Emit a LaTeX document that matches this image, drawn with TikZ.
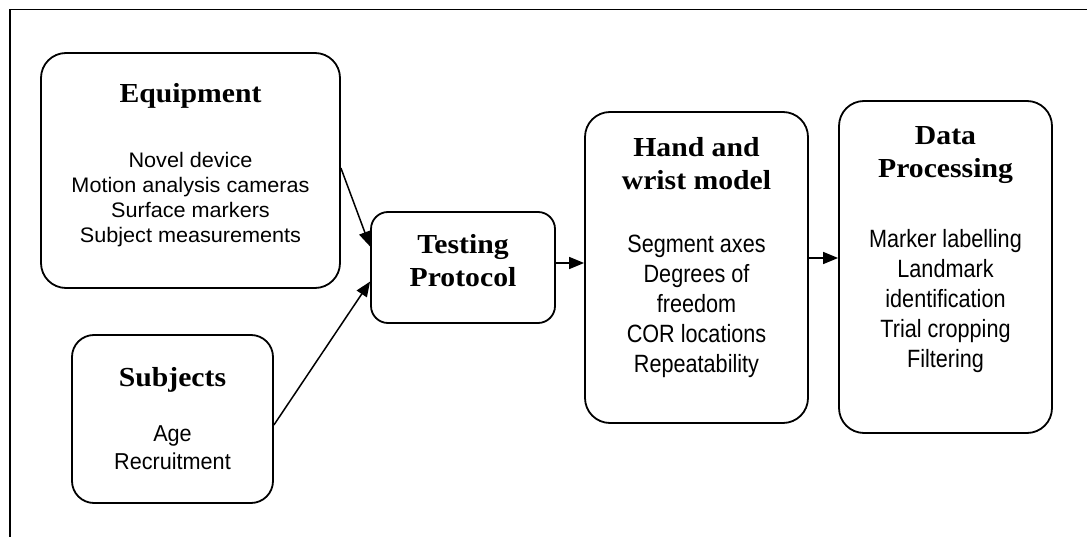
\documentclass[tikz,border=0pt]{standalone}
\usepackage{fontspec}
\usetikzlibrary{arrows.meta}
\newfontfamily\headfont[FakeStretch=1.08]{Liberation Serif}
\newfontfamily\bodyA[FakeStretch=1.03]{Liberation Sans}
\newfontfamily\bodyB[FakeStretch=0.94]{Liberation Sans}
\newfontfamily\bodyC[FakeStretch=0.865]{Liberation Sans}
\tikzset{
  box/.style={draw, line width=1.8pt, inner sep=0pt},
  head/.style={anchor=north, inner sep=0pt, align=center, font=\headfont\bfseries\fontsize{27.5}{33.5}\selectfont},
  bodyeq/.style={anchor=north, inner sep=0pt, align=center, font=\bodyA\fontsize{21}{25}\selectfont},
  bodysub/.style={anchor=north, inner sep=0pt, align=center, font=\bodyB\fontsize{23}{28}\selectfont},
  bodybig/.style={anchor=north, inner sep=0pt, align=center, font=\bodyC\fontsize{25}{30}\selectfont},
  arr/.style={line width=1.5pt, -{Triangle[length=15pt,width=12pt]}},
  frame/.style={line width=1.8pt}
}
\begin{document}
\begin{tikzpicture}[x=1pt,y=-1pt]
\useasboundingbox (0,0) rectangle (1087,537);
% outer frame
\coordinate (fbl) at (10,537);
\coordinate (ftl) at (10,9.5);
\coordinate (ftr) at (1087,9.5);
\draw[frame] (fbl) -- (ftl) -- (ftr);
% boxes
\node[box, rounded corners=25pt, minimum width=299pt, minimum height=235pt] (equip) at (190.5,170.5) {};
\node[box, rounded corners=22pt, minimum width=201pt, minimum height=168pt] (subj) at (172.5,419) {};
\node[box, rounded corners=17pt, minimum width=184pt, minimum height=111pt] (test) at (463,267.5) {};
\node[box, rounded corners=25pt, minimum width=223pt, minimum height=311pt] (hand) at (696.5,267.5) {};
\node[box, rounded corners=25pt, minimum width=213pt, minimum height=332pt] (data) at (945.5,267) {};
% texts
\node[head] (equipH) at (190.5,83) {Equipment};
\node[bodyeq] (equipB) at (190.5,152) {Novel device\\Motion analysis cameras\\Surface markers\\Subject measurements};
\node[head] (subjH) at (172.5,367) {Subjects};
\node[bodysub] (subjB) at (172.5,425) {Age\\Recruitment};
\node[head] (testH) at (463,234) {Testing\\Protocol};
\node[head] (handH) at (696.5,137) {Hand and\\wrist model};
\node[bodybig] (handB) at (696.5,235) {Segment axes\\Degrees of\\freedom\\COR locations\\Repeatability};
\node[head] (dataH) at (945.5,126) {Data\\Processing};
\node[bodybig] (dataB) at (945.5,229) {Marker labelling\\Landmark\\identification\\Trial cropping\\Filtering};
% arrows
\draw[arr] ([yshift=2.5pt]equip.east) -- ([yshift=21pt]test.west);
\draw[arr] ([yshift=-6pt]subj.east) -- ([yshift=-14pt]test.west);
\draw[arr] ([yshift=4.5pt]test.east) -- ([yshift=4.5pt]hand.west);
\draw[arr] ([yshift=9.5pt]hand.east) -- ([yshift=9pt]data.west);
\end{tikzpicture}
\end{document}
